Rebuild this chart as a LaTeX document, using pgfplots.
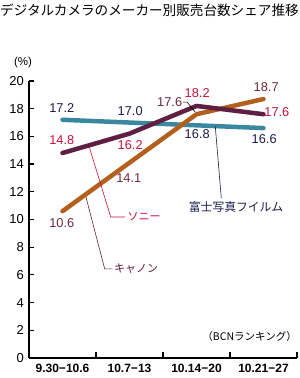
\documentclass[border=0pt]{standalone}
\usepackage{pgfplots}
\pgfplotsset{compat=1.18}
\usepackage{fontspec}
\setmainfont{Liberation Sans}
\newfontfamily\jp{Noto Sans CJK JP}
\definecolor{fuji}{HTML}{3A88A0}
\definecolor{sony}{HTML}{5E1F42}
\definecolor{canon}{HTML}{B3601E}
\definecolor{sonytxt}{HTML}{C8103C}
\definecolor{fujitxt}{HTML}{1B1B4D}
\definecolor{canontxt}{HTML}{6E2838}
\begin{document}
\begin{tikzpicture}
\useasboundingbox (0,0) rectangle (300bp,378bp);
\begin{axis}[
  at={(29bp,20bp)}, anchor=south west,
  scale only axis, width=268bp, height=277bp,
  xmin=0, xmax=4, ymin=0, ymax=20,
  clip=false,
  axis x line=bottom, axis y line=left,
  axis line style={-, line width=1.4bp, black},
  tick align=inside,
  /pgf/number format/assume math mode=true,
  ytick={0,2,...,20},
  major tick length=5bp,
  tick style={black, line width=1.2bp},
  yticklabel style={font=\fontsize{13bp}{15bp}\selectfont, inner sep=0pt, anchor=east, xshift=-5bp},
  xtick={0.5,1.5,2.5,3.5},
  xticklabels={9.30−10.6,10.7−13,10.14−20,10.21−27},
  major x tick style={draw=none},
  minor xtick={1,2,3,4},
  minor tick length=6bp,
  minor x tick style={black, line width=1.2bp},
  xticklabel style={font=\bfseries\fontsize{12bp}{13bp}\selectfont, inner sep=0pt, anchor=north, yshift=-6bp},
]
\addplot[fuji, line width=4.5bp, line cap=round, line join=round] coordinates {(0.5,17.2) (1.5,17.0) (2.5,16.8) (3.5,16.6)};
\addplot[canon, line width=4.5bp, line cap=round, line join=round] coordinates {(0.5,10.6) (1.5,14.1) (2.5,17.6) (3.5,18.7)};
\addplot[sony, line width=4.5bp, line cap=round, line join=round] coordinates {(0.5,14.8) (1.5,16.2) (2.5,18.2) (3.5,17.6)};

% leaders
\draw[sonytxt, line width=0.6bp] (axis cs:0.90,15.23) -- (axis cs:1.22,10.18) -- (axis cs:1.43,10.18);
\draw[sony, line width=0.6bp] (axis cs:0.85,11.62) -- (axis cs:1.13,6.43) -- (axis cs:1.25,6.43);
\draw[fujitxt, line width=0.6bp] (axis cs:2.78,16.74) -- (axis cs:2.87,11.55);
\draw[black, line width=0.6bp] (axis cs:2.30,18.48) -- (axis cs:2.36,18.48) -- (axis cs:2.48,17.76);

\begin{scope}[every node/.style={font=\fontsize{12.8bp}{14bp}\selectfont, inner sep=0pt}]
\node[fujitxt] at (axis cs:0.49,18.05) {17.2};
\node[fujitxt] at (axis cs:1.51,17.83) {17.0};
\node[fujitxt] at (axis cs:2.51,16.17) {16.8};
\node[fujitxt] at (axis cs:3.51,15.81) {16.6};
\node[sonytxt] at (axis cs:0.49,15.74) {14.8};
\node[sonytxt] at (axis cs:1.51,15.38) {16.2};
\node[sonytxt] at (axis cs:2.51,19.13) {18.2};
\node[sonytxt] at (axis cs:3.70,17.76) {17.6};
\node[canontxt] at (axis cs:0.49,9.75) {10.6};
\node[canontxt] at (axis cs:1.49,13.0) {14.1};
\node[canontxt] at (axis cs:2.10,18.48) {17.6};
\node[canontxt] at (axis cs:3.54,19.57) {18.7};
\end{scope}

\node[sonytxt, font=\jp\fontsize{11bp}{13bp}\selectfont, inner sep=0pt] at (axis cs:1.72,10.18) {ソニー};
\node[sony, font=\jp\fontsize{11bp}{13bp}\selectfont, inner sep=0pt] at (axis cs:1.60,6.43) {キャノン};
\node[fujitxt, font=\jp\fontsize{11.8bp}{13bp}\selectfont, inner sep=0pt] at (axis cs:3.09,10.9) {富士写真フイルム};

\node[black, font=\jp\fontsize{13.6bp}{15bp}\selectfont, inner sep=0pt, anchor=west] at (axis cs:-0.433,25.13) {デジタルカメラのメーカー別販売台数シェア推移};
\node[black, font=\fontsize{11.5bp}{13bp}\selectfont, inner sep=0pt] at (axis cs:-0.09,21.37) {(\%)};
\node[black, font=\jp\fontsize{10.5bp}{12bp}\selectfont, inner sep=0pt, anchor=east] at (axis cs:4.0,1.52) {（BCNランキング）};
\end{axis}
\end{tikzpicture}
\end{document}
